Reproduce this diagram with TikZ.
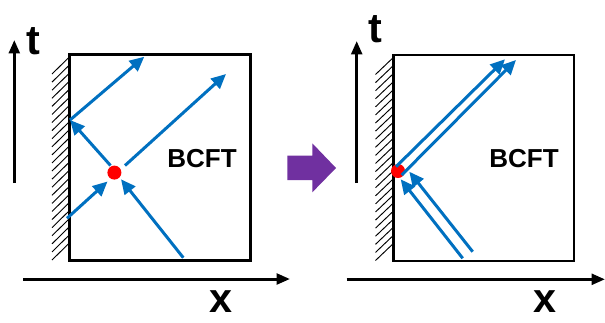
\documentclass[tikz,border=0pt]{standalone}
\usepackage{fontspec}
\setmainfont{Liberation Sans}
\usetikzlibrary{arrows.meta}
\definecolor{pblue}{HTML}{0070C0}
\definecolor{ppurple}{HTML}{7030A0}
\definecolor{pred}{HTML}{FF0000}
\begin{document}
\begin{tikzpicture}[x=0.75pt,y=-0.75pt,
  wave/.style={draw=pblue,line width=2.25pt,-{Triangle[length=11pt,width=10pt]}},
  axisline/.style={draw=black,line width=2.25pt,-{Triangle[length=10pt,width=8pt]}},
  panel/.style={draw=black,line width=2pt},
  hatchline/.style={draw=black,line width=0.7pt},
  bigtext/.style={font=\bfseries\fontsize{31}{31}\selectfont,inner sep=0pt},
  labeltext/.style={font=\bfseries\fontsize{19.5}{19.5}\selectfont,inner sep=0pt},
  dotnode/.style={circle,fill=pred,minimum size=10.5pt,inner sep=0pt}]
\useasboundingbox (0,0) rectangle (605,322);

% ---------- left panel ----------
\foreach \i in {0,...,23}{
  \draw[hatchline] (52,{57+\i*8.087+17}) -- (69.3,{57+\i*8.087});
}
\draw[panel] (69.3,54.3) rectangle (250.7,260.7);
\coordinate (lt0) at (14.3,183);
\coordinate (lt1) at (14.3,40);
\draw[axisline] (lt0) -- (lt1);
\coordinate (lx0) at (23,279);
\coordinate (lx1) at (290,279);
\draw[axisline] (lx0) -- (lx1);
\node[bigtext] (lt) at (33.5,41) {t};
\node[bigtext] (lx) at (221,302) {x};
\node[labeltext] (lbcft) at (202,159) {BCFT};
\node[dotnode] (ldot) at (114.4,172.6) {};

\coordinate (la1s) at (67,218.3);
\coordinate (la1e) at (107.5,181.5);
\coordinate (la2s) at (183.3,257.7);
\coordinate (la2e) at (121,179.3);
\coordinate (la3s) at (110.5,165.5);
\coordinate (lw) at (70,120);
\coordinate (la4e) at (144.3,56.7);
\coordinate (la5s) at (125,165.5);
\coordinate (la5e) at (226,74);
\draw[wave] (la1s) -- (la1e);
\draw[wave] (la2s) -- (la2e);
\draw[wave] (la3s) -- (lw);
\draw[wave] (lw) -- (la4e);
\draw[wave] (la5s) -- (la5e);

% ---------- purple arrow ----------
\fill[ppurple] (287.3,155.7) -- (312.3,155.7) -- (312.3,143.3) -- (336,168)
  -- (312.3,192.3) -- (312.3,180) -- (287.3,180) -- cycle;

% ---------- right panel ----------
\foreach \i in {0,...,23}{
  \draw[hatchline] (375.5,{57.5+\i*8.087+17}) -- (393.3,{57.5+\i*8.087});
}
\draw[panel] (393.3,55) rectangle (574,261);
\coordinate (rt0) at (356.7,183);
\coordinate (rt1) at (356.7,41);
\draw[axisline] (rt0) -- (rt1);
\coordinate (rx0) at (346.7,279.3);
\coordinate (rx1) at (605,279.3);
\draw[axisline] (rx0) -- (rx1);
\node[bigtext] (rt) at (375,29) {t};
\node[bigtext] (rx) at (545,302) {x};
\node[labeltext] (rbcft) at (524,159) {BCFT};
\node[dotnode] (rdot) at (398,171) {};

\coordinate (rcs) at (396,166.7);
\coordinate (rce) at (505,59.3);
\coordinate (rds) at (401.7,175);
\coordinate (rde) at (516,60);
\coordinate (ras) at (462.7,258.3);
\coordinate (rae) at (400.7,179.3);
\coordinate (rbs) at (472.7,251.7);
\coordinate (rbe) at (409.3,171.7);
\draw[wave] (rcs) -- (rce);
\draw[wave] (rds) -- (rde);
\draw[wave] (ras) -- (rae);
\draw[wave] (rbs) -- (rbe);
\end{tikzpicture}
\end{document}
